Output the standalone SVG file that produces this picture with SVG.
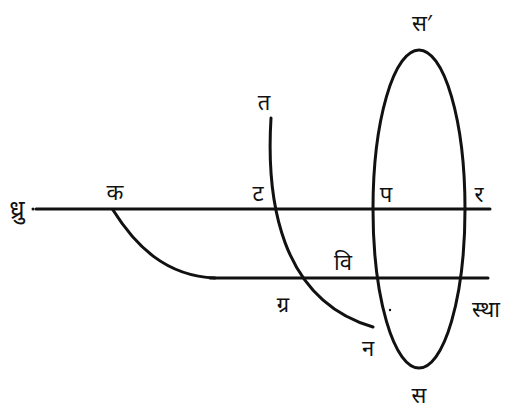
<svg xmlns="http://www.w3.org/2000/svg" width="515" height="410" viewBox="0 0 515 410">
<style>
.l{fill:none;stroke:#111;stroke-width:3;stroke-linecap:round}
.t{font-family:"Noto Sans","Noto Sans Devanagari","Lohit Devanagari",sans-serif;font-size:22px;fill:#111;text-anchor:middle}
</style>
<rect width="515" height="410" fill="#fff"/>
<g id="connectors">
<path class="l" d="M36,209 L490,209"/>
<path class="l" d="M210,278 L488,278"/>
<path class="l" d="M113,210 C135,245 165,276 215,278"/>
<path class="l" d="M271,118 C266,200 280,300 373,327"/>
<ellipse class="l" cx="419" cy="209" rx="46" ry="159"/>
<circle cx="390" cy="310" r="1.2" fill="#111"/>
<circle cx="33" cy="209" r="1.5" fill="#111"/>
</g>
<g id="labels">
<text class="t" x="17" y="218" style="font-size:25px">ध्रु</text>
<text class="t" x="115" y="200">क</text>
<text class="t" x="264" y="110">त</text>
<text class="t" x="258" y="201">ट</text>
<text class="t" x="386" y="202">प</text>
<text class="t" x="479" y="202">र</text>
<text class="t" x="422" y="31">स′</text>
<text class="t" x="343" y="270">वि</text>
<text class="t" x="283" y="312">ग्र</text>
<text class="t" x="368" y="356">न</text>
<text class="t" x="486" y="317">स्था</text>
<text class="t" x="419" y="403">स</text>
</g>
</svg>
